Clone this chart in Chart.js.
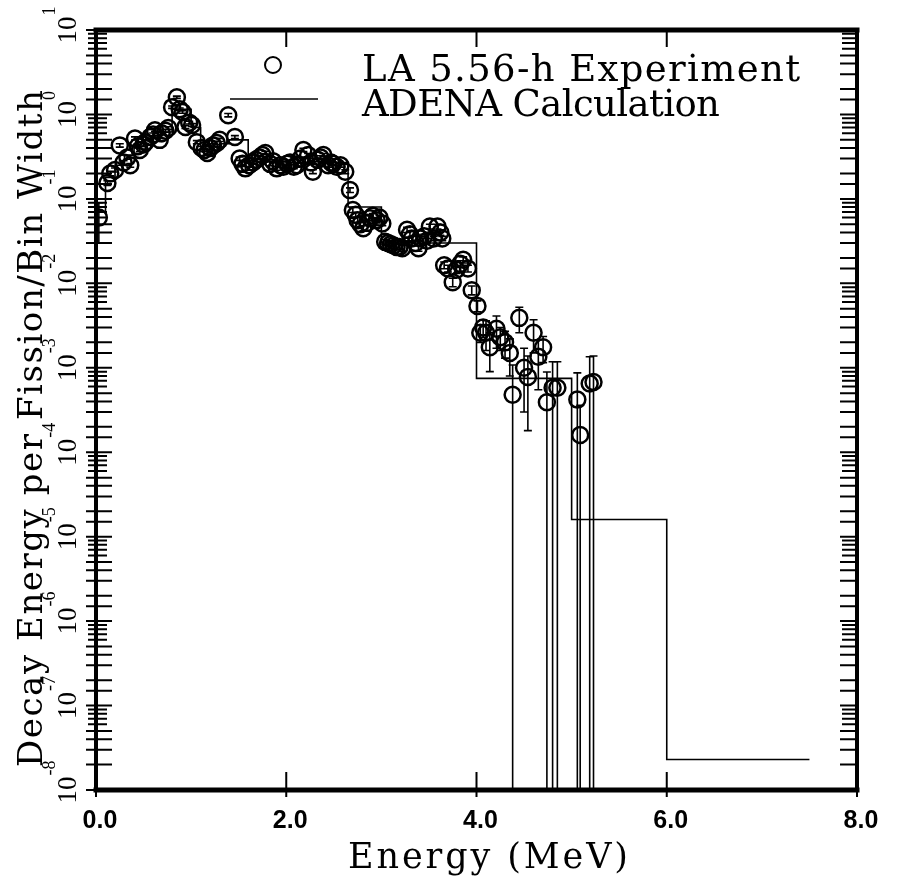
<!DOCTYPE html>
<html>
<head>
<meta charset="utf-8">
<title>Decay energy spectrum</title>
<script src="https://cdn.jsdelivr.net/npm/chart.js@4.4.1/dist/chart.umd.min.js"></script>
<style>
  html, body { margin: 0; padding: 0; background: #fff; }
  canvas { display: block; }
</style>
</head>
<body>
<canvas id="spectrum_canvas" width="898" height="880"></canvas>
<script>
// measured points (MeV, value, 1-sigma)
const expEnergy = [
  0.03, 0.12, 0.15, 0.20, 0.25, 0.29, 0.33, 0.36, 0.41, 0.44,
  0.46, 0.50, 0.52, 0.57, 0.60, 0.62, 0.67, 0.69, 0.73, 0.76,
  0.80, 0.85, 0.88, 0.91, 0.94, 0.98, 1.01, 1.06, 1.11, 1.14,
  1.17, 1.20, 1.23, 1.27, 1.30, 1.39, 1.46, 1.51, 1.54, 1.57,
  1.61, 1.65, 1.68, 1.72, 1.75, 1.78, 1.83, 1.86, 1.90, 1.94,
  1.97, 2.01, 2.04, 2.08, 2.11, 2.15, 2.18, 2.23, 2.26, 2.28,
  2.33, 2.36, 2.39, 2.44, 2.47, 2.49, 2.53, 2.57, 2.62, 2.67,
  2.70, 2.73, 2.75, 2.78, 2.81, 2.85, 2.88, 2.91, 2.95, 2.98,
  3.01, 3.04, 3.07, 3.10, 3.13, 3.16, 3.19, 3.22, 3.27, 3.30,
  3.32, 3.36, 3.39, 3.41, 3.45, 3.48, 3.51, 3.55, 3.59, 3.62,
  3.64, 3.66, 3.70, 3.75, 3.79, 3.83, 3.86, 3.91, 3.95, 4.01,
  4.04, 4.07, 4.10, 4.14, 4.21, 4.25, 4.30, 4.35, 4.38, 4.45,
  4.50, 4.54, 4.60, 4.65, 4.70, 4.74, 4.80, 4.85, 5.06, 5.09,
  5.19, 5.23
];
const expValue = [
  0.060, 0.154, 0.200, 0.220, 0.430, 0.270, 0.310, 0.250, 0.520, 0.420,
  0.380, 0.440, 0.470, 0.540, 0.580, 0.650, 0.500, 0.600, 0.640, 0.690,
  1.220, 1.600, 1.150, 1.070, 0.710, 0.800, 0.750, 0.470, 0.400, 0.380,
  0.350, 0.400, 0.430, 0.460, 0.500, 0.980, 0.540, 0.300, 0.260, 0.230,
  0.250, 0.270, 0.290, 0.310, 0.330, 0.350, 0.260, 0.280, 0.230, 0.250,
  0.240, 0.260, 0.270, 0.240, 0.250, 0.300, 0.380, 0.330, 0.270, 0.210,
  0.290, 0.310, 0.330, 0.250, 0.270, 0.260, 0.240, 0.250, 0.210, 0.127,
  0.074, 0.065, 0.056, 0.050, 0.045, 0.052, 0.059, 0.063, 0.056, 0.060,
  0.051, 0.031, 0.030, 0.029, 0.028, 0.027, 0.027, 0.026, 0.043, 0.038,
  0.034, 0.030, 0.026, 0.034, 0.036, 0.032, 0.047, 0.034, 0.047, 0.040,
  0.034, 0.0164, 0.0150, 0.0103, 0.0145, 0.0170, 0.0190, 0.0150, 0.0083, 0.0054,
  0.0026, 0.0030, 0.0026, 0.00175, 0.0029, 0.0023, 0.0020, 0.0015, 0.00048, 0.0039,
  0.0010, 0.00078, 0.0026, 0.00135, 0.00175, 0.00039, 0.00058, 0.00058, 0.00042, 0.00016,
  0.00065, 0.00068
];
const expSigma = [
  0.030, 0.010, 0.012, 0.012, 0.020, 0.014, 0.015, 0.013, 0.022, 0.018,
  0.017, 0.018, 0.019, 0.021, 0.022, 0.024, 0.020, 0.022, 0.024, 0.025,
  0.040, 0.050, 0.040, 0.038, 0.028, 0.030, 0.028, 0.020, 0.018, 0.017,
  0.016, 0.018, 0.019, 0.020, 0.021, 0.045, 0.022, 0.014, 0.013, 0.012,
  0.012, 0.013, 0.013, 0.014, 0.015, 0.016, 0.013, 0.013, 0.012, 0.012,
  0.012, 0.013, 0.013, 0.012, 0.012, 0.014, 0.017, 0.015, 0.013, 0.011,
  0.014, 0.014, 0.015, 0.012, 0.013, 0.013, 0.012, 0.012, 0.011, 0.008,
  0.005, 0.004, 0.004, 0.003, 0.003, 0.003, 0.004, 0.004, 0.004, 0.004,
  0.003, 0.002, 0.002, 0.002, 0.002, 0.002, 0.002, 0.002, 0.003, 0.003,
  0.002, 0.002, 0.002, 0.002, 0.002, 0.002, 0.003, 0.002, 0.003, 0.003,
  0.002, 0.0015, 0.0014, 0.0012, 0.0014, 0.0015, 0.0016, 0.0014, 0.0010, 0.0008,
  0.0006, 0.0007, 0.0010, 0.00085, 0.0012, 0.0007, 0.0007, 0.0007, 0.0006, 0.0013,
  0.0007, 0.0006, 0.0011, 0.0008, 0.0006, 0.0005, 0.0006, 0.0006, 0.00045, 0.0002,
  0.0007, 0.0007
];

// ADENA histogram: bin start energies and bin values (last point closes the bin)
const calcEnergy = [0.0, 0.1, 0.2, 0.3, 0.4, 0.5, 0.6, 0.7, 0.8, 1.0, 1.1, 1.2, 1.3,
  1.4, 1.6, 1.8, 2.0, 2.2, 2.4, 2.65, 3.0, 4.0, 5.0, 6.0, 7.5];
const calcValue = [0.07, 0.18, 0.25, 0.33, 0.42, 0.50, 0.56, 0.62, 1.15, 0.70, 0.42, 0.38, 0.45,
  0.50, 0.30, 0.28, 0.27, 0.30, 0.27, 0.08, 0.03, 0.00075, 1.6e-5, 2.3e-8, 2.3e-8];

const legendLabels = ['LA 5.56-h Experiment', 'ADENA Calculation'];
const xTitle = 'Energy (MeV)';
const yTitle = 'Decay Energy per Fission/Bin Width';

const serif = '"DejaVu Serif", "Liberation Serif", serif';

// draw text spread to a given width
function spreadText(ctx, text, x, y, width) {
  ctx.letterSpacing = '0px';
  const w = ctx.measureText(text).width;
  const sp = (width - w) / (text.length - 1);
  ctx.letterSpacing = sp.toFixed(2) + 'px';
  ctx.fillText(text, x, y);
  ctx.letterSpacing = '0px';
}

const framePlugin = {
  id: 'frame',
  afterDatasetsDraw(chart) {
    // error bars
    const { ctx, chartArea: a, scales: { x, y } } = chart;
    ctx.save();
    ctx.beginPath();
    ctx.rect(a.left, a.top, a.right - a.left, a.bottom - a.top);
    ctx.clip();
    ctx.strokeStyle = '#000';
    ctx.lineWidth = 1.6;
    expEnergy.forEach((e, i) => {
      const px = x.getPixelForValue(e);
      const hi = expValue[i] + expSigma[i];
      const lo = expValue[i] - expSigma[i];
      const yHi = y.getPixelForValue(hi);
      const yLo = lo > 0 ? y.getPixelForValue(lo) : a.bottom + 5;
      ctx.beginPath();
      ctx.moveTo(px, yHi);
      ctx.lineTo(px, yLo);
      ctx.moveTo(px - 4, yHi);
      ctx.lineTo(px + 4, yHi);
      if (lo > 0) {
        ctx.moveTo(px - 4, yLo);
        ctx.lineTo(px + 4, yLo);
      }
      ctx.stroke();
    });
    ctx.restore();
  },
  afterDraw(chart) {
    const { ctx, chartArea: a, scales: { x, y } } = chart;
    ctx.save();
    ctx.strokeStyle = '#000';
    ctx.fillStyle = '#000';

    // frame
    ctx.lineCap = 'square';
    ctx.lineWidth = 5;
    ctx.beginPath();
    ctx.moveTo(a.left, a.top); ctx.lineTo(a.right, a.top);
    ctx.moveTo(a.left, a.bottom); ctx.lineTo(a.right, a.bottom);
    ctx.stroke();
    ctx.lineWidth = 4;
    ctx.beginPath();
    ctx.moveTo(a.left, a.top); ctx.lineTo(a.left, a.bottom);
    ctx.moveTo(a.right, a.top); ctx.lineTo(a.right, a.bottom);
    ctx.stroke();
    ctx.lineCap = 'butt';

    // y tick marks, both sides
    ctx.lineWidth = 2;
    y.ticks.forEach(t => {
      const p = y.getPixelForValue(t.value);
      const ex = Math.floor(Math.log10(t.value) + 1e-9);
      const m = Math.round(t.value / Math.pow(10, ex));
      const dense = m >= 6;
      ctx.beginPath();
      ctx.moveTo(a.left - (dense ? 8 : 10), p);
      ctx.lineTo(a.left + (dense ? 11 : 16), p);
      ctx.moveTo(a.right - (dense ? 15 : 17), p);
      ctx.lineTo(a.right, p);
      ctx.stroke();
    });

    // x tick marks, bottom and top
    x.ticks.forEach(t => {
      const p = x.getPixelForValue(t.value);
      ctx.beginPath();
      ctx.moveTo(p, a.bottom + 7);
      ctx.lineTo(p, a.bottom - 18);
      ctx.moveTo(p, a.top);
      ctx.lineTo(p, a.top + 17);
      ctx.stroke();
    });

    // y decade labels, rotated, 10 with exponent
    y.ticks.forEach(t => {
      const ex = Math.round(Math.log10(t.value));
      if (Math.abs(Math.log10(t.value) - ex) > 1e-6) return;
      const p = y.getPixelForValue(t.value);
      ctx.save();
      ctx.translate(a.left - 20, p);
      ctx.rotate(-Math.PI / 2);
      ctx.font = '27px "Liberation Serif", serif';
      ctx.textBaseline = 'alphabetic';
      ctx.textAlign = 'center';
      ctx.fillText('10', 0, 0);
      const half = ctx.measureText('10').width / 2;
      ctx.font = '18px "Liberation Serif", serif';
      ctx.textAlign = 'left';
      ctx.fillText(String(ex), half + 1, -21);
      ctx.restore();
    });

    // y title
    ctx.save();
    ctx.translate(42, 767);
    ctx.rotate(-Math.PI / 2);
    ctx.font = '34px ' + serif;
    ctx.textAlign = 'left';
    ctx.textBaseline = 'alphabetic';
    spreadText(ctx, yTitle, 0, 0, 677);
    ctx.restore();

    // x title
    ctx.font = '35px ' + serif;
    ctx.textAlign = 'left';
    ctx.textBaseline = 'alphabetic';
    spreadText(ctx, xTitle, 348, 868, 280);

    // legend
    ctx.lineWidth = 2;
    ctx.beginPath();
    ctx.arc(273, 65, 8, 0, Math.PI * 2);
    ctx.stroke();
    ctx.lineWidth = 1.6;
    ctx.beginPath();
    ctx.moveTo(230, 99);
    ctx.lineTo(318, 99);
    ctx.stroke();
    ctx.font = '37px ' + serif;
    spreadText(ctx, legendLabels[0], 362, 81, 438);
    spreadText(ctx, legendLabels[1], 362, 116, 358);

    ctx.restore();
  }
};

const ctx = document.getElementById('spectrum_canvas').getContext('2d');
new Chart(ctx, {
  type: 'scatter',
  data: {
    datasets: [{
      type: 'scatter',
      label: legendLabels[0],
      data: expEnergy.map((e, i) => ({ x: e, y: expValue[i] })),
      pointStyle: 'circle',
      pointRadius: 8,
      pointHoverRadius: 8,
      pointBorderWidth: 2.5,
      pointBorderColor: '#000',
      pointBackgroundColor: 'rgba(0,0,0,0)'
    }, {
      type: 'line',
      label: legendLabels[1],
      data: calcEnergy.map((e, i) => ({ x: e, y: calcValue[i] })),
      stepped: true,
      borderColor: '#000',
      borderWidth: 1.6,
      pointRadius: 0,
      fill: false
    }]
  },
  options: {
    responsive: false,
    animation: false,
    layout: { padding: { left: 0, right: 41, top: 30, bottom: 0 } },
    plugins: {
      legend: { display: false },
      tooltip: { enabled: false }
    },
    scales: {
      x: {
        type: 'linear',
        min: 0,
        max: 8,
        ticks: {
          stepSize: 2,
          maxRotation: 0,
          padding: 16,
          labelOffset: 4,
          color: '#000',
          font: { family: '"Liberation Sans Narrow", "Liberation Sans", sans-serif', size: 25, weight: 'bold' },
          callback: v => v.toFixed(1)
        },
        grid: { display: false, drawTicks: false },
        border: { display: false },
        afterFit: s => { s.height = 90; }
      },
      y: {
        type: 'logarithmic',
        min: 1e-8,
        max: 10,
        ticks: { display: false, autoSkip: false },
        grid: { display: false, drawTicks: false },
        border: { display: false },
        afterFit: s => { s.width = 96; }
      }
    }
  },
  plugins: [framePlugin]
});
</script>
</body>
</html>
